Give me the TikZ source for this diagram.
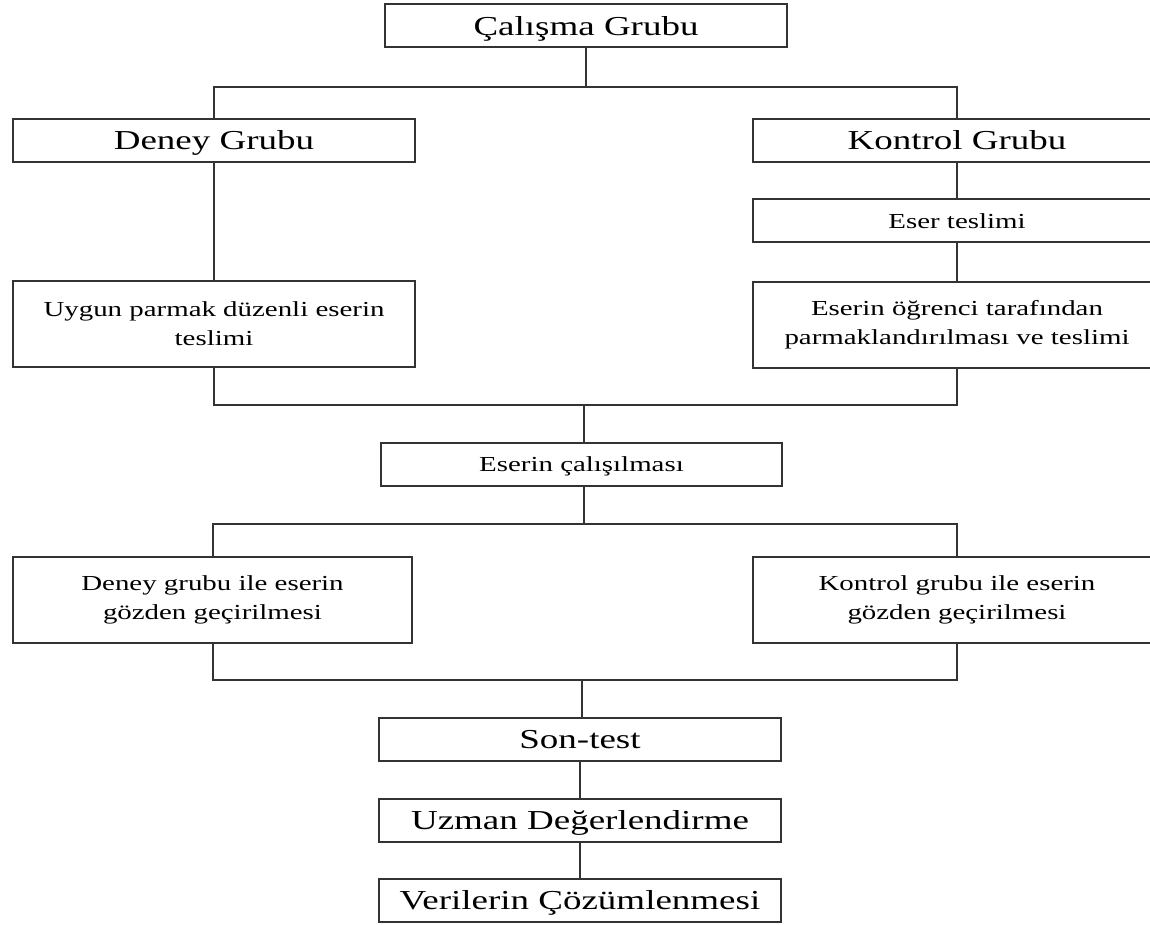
\documentclass[tikz,border=0pt]{standalone}
\usepackage{fontspec}
\setmainfont{Liberation Serif}
\usepackage{graphicx}
\usepackage{tikz}
\usetikzlibrary{calc}

\newcommand{\wide}[1]{\scalebox{1.35}[1]{#1}}

\begin{document}
\begin{tikzpicture}[x=0.5pt, y=-0.5pt, line width=1pt,
	box/.style={draw=black!80, inner sep=0pt, outer sep=0pt, minimum width=201pt, minimum height=21.5pt, align=center, font=\fontsize{10.7}{14.5}\selectfont, text height=7.1pt, text depth=0pt},
	bigbox/.style={box, font=\fontsize{13.7}{16}\selectfont, text height=9.1pt},
	tallbox/.style={box, minimum height=43pt, text height={}, text depth={}}]
	\useasboundingbox (0,0) rectangle (1150,925);
	\clip (0,0) rectangle (1150,925);
	%\draw[help lines, step=50] (0,0) grid (1150,925);
	\node[bigbox] (calis) at (586,26) {\wide{Çalışma Grubu}};
	\node[bigbox] (deney) at (214,140.5) {\wide{Deney Grubu}};
	\node[bigbox, minimum width=204pt] (kontrol) at (957,140.5) {\wide{Kontrol Grubu}};
	\node[box, minimum width=204pt] (eser) at (957,221) {\wide{Eser teslimi}};
	\node[tallbox] (uygun) at (214,324) {\wide{Uygun parmak düzenli eserin}\\\wide{teslimi}};
	\node[tallbox, minimum width=204pt] (ogrenci) at (957,324.5) {\wide{Eserin öğrenci tarafından}\\\wide{parmaklandırılması ve teslimi}};
	\node[box, minimum width=200.5pt] (calisma) at (581.5,464.5) {\wide{Eserin çalışılması}};
	\node[tallbox, minimum width=199.5pt] (deneyile) at (212.5,600) {\wide{Deney grubu ile eserin}\\\wide{gözden geçirilmesi}};
	\node[tallbox, minimum width=204pt] (kontrolile) at (957,600) {\wide{Kontrol grubu ile eserin}\\\wide{gözden geçirilmesi}};
	\node[bigbox] (sontest) at (580,739.5) {\wide{Son-test}};
	\node[bigbox] (uzman) at (580,820) {\wide{Uzman Değerlendirme}};
	\node[bigbox] (veri) at (580,900.5) {\wide{Verilerin Çözümlenmesi}};

	\coordinate (split1) at (586,87);
	\coordinate (join1) at (584,405);
	\coordinate (split2) at (584,524);
	\coordinate (join2) at (582,680);

	\path[draw=black!80]
	(calis) -- (split1)
	(deney.north) |- (split1) -| (kontrol.north)
	(deney) -- (uygun)
	(kontrol) -- (eser)
	(eser) -- (ogrenci)
	(uygun.south) |- (join1) -| (ogrenci.south)
	(join1) -- (join1 |- calisma.north)
	(split2 |- calisma.south) -- (split2)
	(deneyile.north) |- (split2) -| (kontrolile.north)
	(deneyile.south) |- (join2) -| (kontrolile.south)
	(join2) -- (join2 |- sontest.north)
	(sontest) -- (uzman)
	(uzman) -- (veri)
	;
\end{tikzpicture}
\end{document}
